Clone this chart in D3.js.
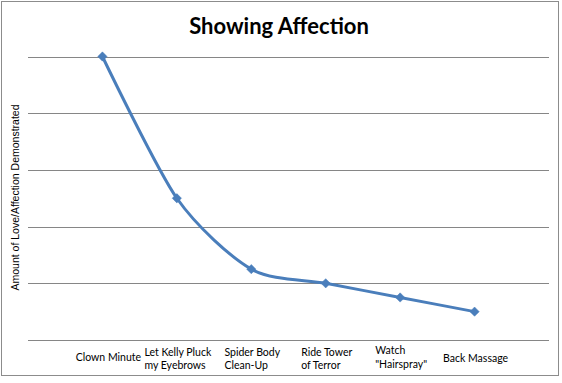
<!DOCTYPE html>
<html><head><meta charset="utf-8">
<script src="https://cdn.jsdelivr.net/npm/d3@7"></script>
<style>body{margin:0;background:#fff}svg{display:block}</style>
</head><body>
<script>
const categories = [["Clown Minute"],["Let Kelly Pluck","my Eyebrows"],["Spider Body","Clean-Up"],["Ride Tower","of Terror"],["Watch","\"Hairspray\""],["Back Massage"]];
const values = [5, 2.5, 1.25, 1, 0.75, 0.5];
const yTicks = [0,1,2,3,4,5];
const title = "Showing Affection";
const yLabel = "Amount of Love/Affection Demonstrated";

const W=562,H=383;
const svg=d3.select("body").append("svg").attr("width",W).attr("height",H);
svg.append("rect").attr("x",1.5).attr("y",1.5).attr("width",557).attr("height",374)
  .attr("fill","#fff").attr("stroke","#8c8c8c").attr("stroke-width",1);

const x=d3.scaleLinear().domain([0,categories.length+1]).range([28,549]);
const y=d3.scaleLinear().domain([0,5]).range([340,56.5]);

const grid=d3.axisLeft(y).tickValues(yTicks).tickSize(-(549-28)).tickFormat("");
const gg=svg.append("g").attr("transform","translate(28,0)").call(grid);
gg.select(".domain").remove();
gg.selectAll("line").attr("stroke","#868686").attr("stroke-width",1).attr("shape-rendering","crispEdges");

svg.append("text").attr("x",279).attr("y",34).attr("text-anchor","middle")
  .attr("font-family","Lato, sans-serif").attr("font-weight","bold").attr("font-size",22).text(title);

svg.append("text").attr("transform","translate(18.5,197.5) rotate(-90)").attr("text-anchor","middle")
  .attr("font-family","'Liberation Sans', Arial, sans-serif").attr("font-size",10.5).attr("fill","#000").text(yLabel);

const labels=svg.append("g").attr("font-family","Lato, sans-serif").attr("font-size",10.5).attr("fill","#000");
categories.forEach((c,i)=>{
  const cx=x(i+1)+(i===0?6:1);
  const t=labels.append("text").attr("text-anchor","start");
  let ys;
  if(c.length===1) ys=[i===0?361:362];
  else { const y0 = i===4?354:355.5; ys=c.map((s,j)=>y0+j*13.5); }
  const spans=c.map((s,j)=>t.append("tspan").attr("y",ys[j]).text(s));
  const wmax=d3.max(spans,sp=>sp.node().getComputedTextLength());
  spans.forEach(sp=>sp.attr("x",cx-wmax/2));
});

const pts=values.map((v,i)=>[x(i+1),y(v)]);
svg.append("path").datum(pts).attr("fill","none").attr("stroke","#4a7ebb").attr("stroke-width",3)
  .attr("stroke-linejoin","round")
  .attr("d",d3.line().curve(d3.curveCardinal.tension(0.2)));
svg.append("g").selectAll("path").data(pts).join("path")
  .attr("transform",d=>`translate(${d[0]},${d[1]})`)
  .attr("d",d3.symbol(d3.symbolDiamond2,55))
  .attr("fill","#4a7ebb").attr("stroke","#4a7ebb").attr("stroke-width",0.5);
</script>
</body></html>
